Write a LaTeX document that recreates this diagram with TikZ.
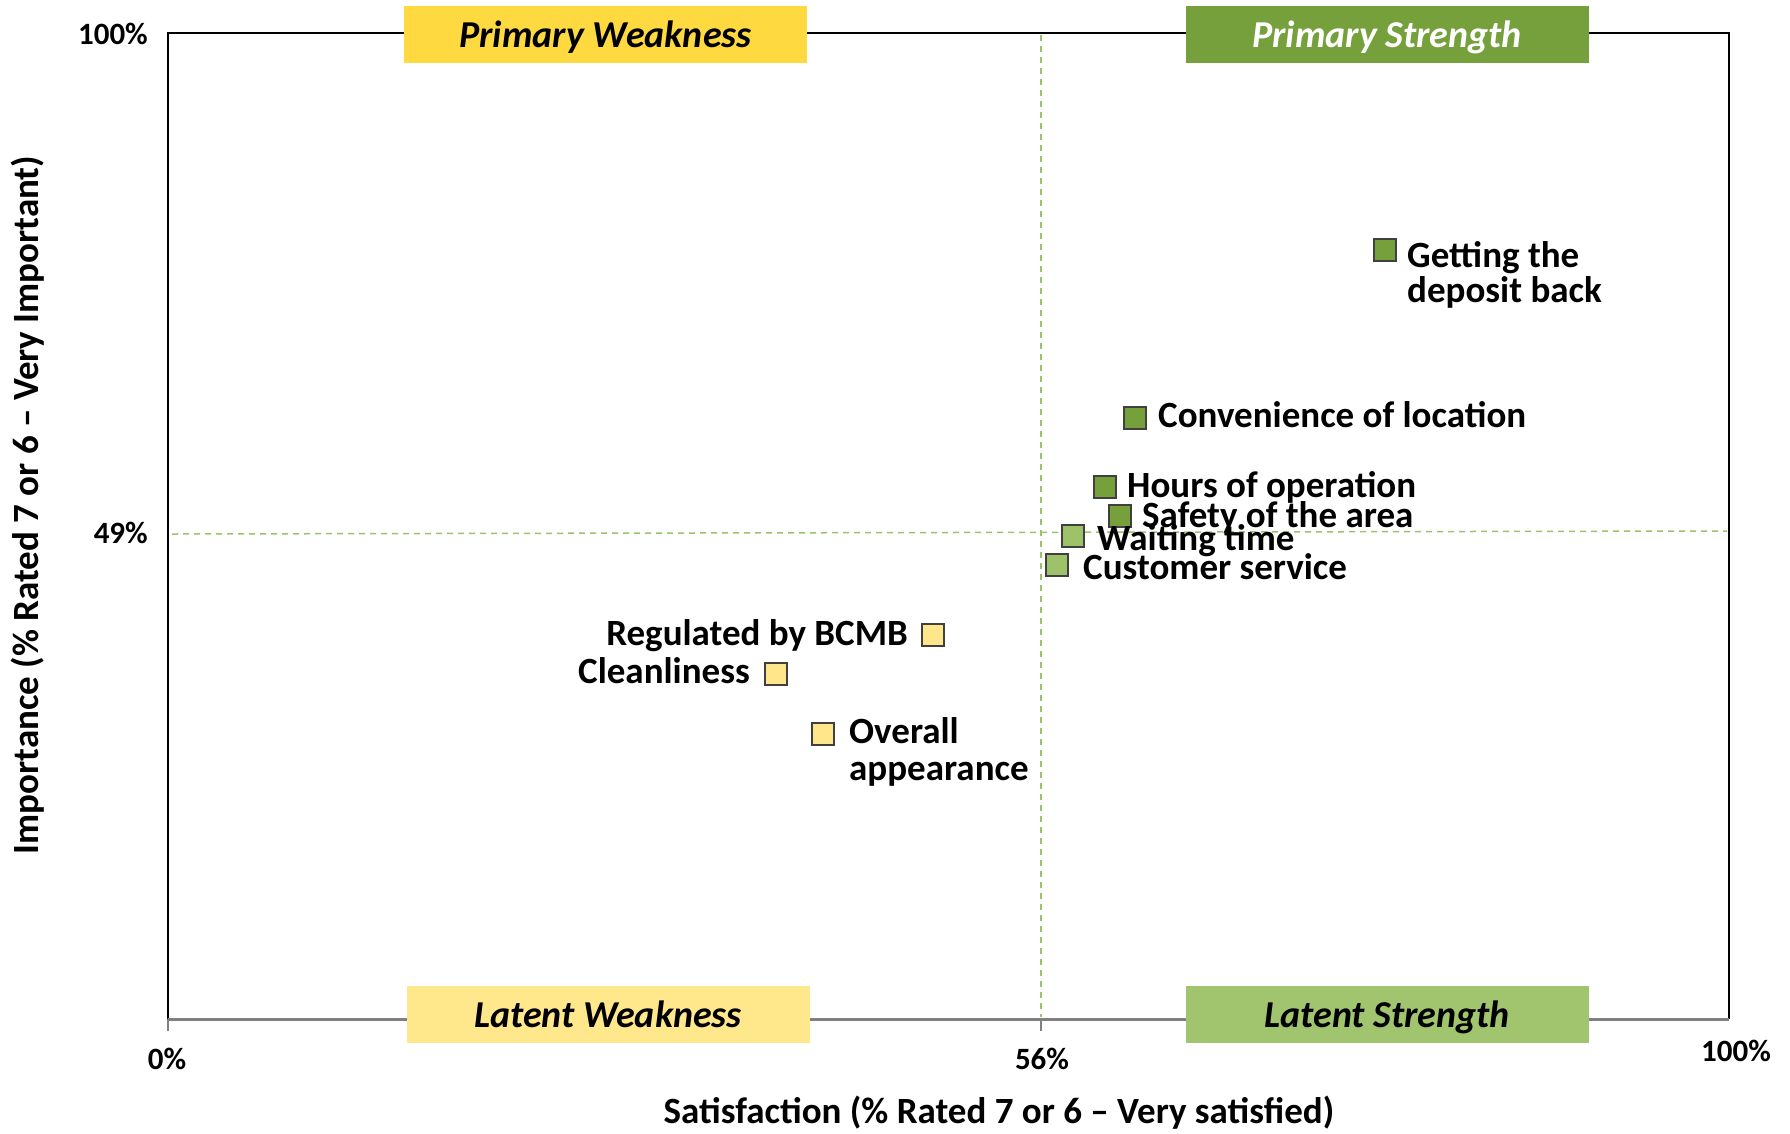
\documentclass[tikz,border=0pt]{standalone}
\usepackage{fontspec}
\setmainfont{Carlito}
\definecolor{pw}{HTML}{FFD940}
\definecolor{lw}{HTML}{FFE88C}
\definecolor{ps}{HTML}{76A03C}
\definecolor{ls}{HTML}{A1C46E}
\definecolor{mkdark}{HTML}{76A03C}
\definecolor{mklight}{HTML}{9DC26A}
\definecolor{mkyel}{HTML}{FFE68A}
\definecolor{mkedge}{HTML}{404040}
\definecolor{axgray}{HTML}{808080}
\definecolor{dashgreen}{HTML}{9BC36A}
\begin{document}
\begin{tikzpicture}[x=1bp,y=-1bp,
  lab/.style={font=\fontsize{37bp}{37bp}\selectfont\bfseries, inner sep=0pt, text=black},
  ticklab/.style={font=\fontsize{31bp}{31bp}\selectfont\bfseries, inner sep=0pt, text=black},
  quad/.style={minimum width=403bp, minimum height=57bp, inner sep=0pt, text height=28bp, text depth=2bp, font=\fontsize{38bp}{38bp}\selectfont\bfseries\itshape},
  sq/.style={draw=mkedge, line width=2bp, minimum size=22bp, inner sep=0pt},
  dsq/.style={sq, fill=mkdark},
  lsq/.style={sq, fill=mklight},
  ysq/.style={sq, fill=mkyel},
  guide/.style={draw=dashgreen, line width=1.5bp, dash pattern=on 6bp off 5bp}]
\useasboundingbox (0,0) rectangle (1790,1133);
\fill[white] (0,0) rectangle (1790,1133);
% frame
\coordinate (tl) at (168,33);
\coordinate (tr) at (1729,33);
\coordinate (br) at (1729,1019);
\coordinate (bl) at (168,1019);
\coordinate (m0) at (1041,1019);
\coordinate (t0) at (168,1031);
\coordinate (t56) at (1041,1031);
\draw[black, line width=2bp] (bl) -- (tl) -- (tr) -- (br);
\draw[axgray, line width=3bp] (bl) -- (br);
\draw[axgray, line width=1.5bp] (bl) -- (t0);
\draw[axgray, line width=1.5bp] (m0) -- (t56);
% guides
\coordinate (vtop) at (1041,35);
\coordinate (vbot) at (1041,1017);
\coordinate (hl) at (172,534);
\coordinate (hr) at (1727,531);
\draw[guide] (vtop) -- (vbot);
\draw[guide] (hl) -- (hr);
% quadrant labels
\node[quad, fill=pw, text=black] (qpw) at (605.5,34.5) {Primary Weakness};
\node[quad, fill=ps, text=white] (qps) at (1387,34.5) {Primary Strength};
\node[quad, fill=lw, text=black] (qlw) at (608,1014) {Latent Weakness};
\node[quad, fill=ls, text=black] (qls) at (1387,1014) {Latent Strength};
% tick labels
\node[ticklab, anchor=east] (y100) at (148,34) {100\%};
\node[ticklab, anchor=east] (y49) at (148,533) {49\%};
\node[ticklab] (x0) at (167,1059) {0\%};
\node[ticklab] (x56) at (1042,1059) {56\%};
\node[ticklab] (x100) at (1736,1051) {100\%};
% axis titles
\node[lab, rotate=90] (ytitle) at (28,505) {Importance (\% Rated 7 or 6 – Very Important)};
\node[lab] (xtitle) at (999,1113) {Satisfaction (\% Rated 7 or 6 – Very satisfied)};
% points
\node[dsq] (p1) at (1385,250) {};
\node[dsq] (p2) at (1135,418) {};
\node[dsq] (p3) at (1105,487) {};
\node[dsq] (p4) at (1120,516) {};
\node[lsq] (p5) at (1073,536) {};
\node[lsq] (p6) at (1057,565) {};
\node[ysq] (p7) at (933,635) {};
\node[ysq] (p8) at (776,674) {};
\node[ysq] (p9) at (823,734) {};
% point labels
\node[lab, anchor=base west] (l1a) at (1407,267) {Getting the};
\node[lab, anchor=base west] (l1b) at (1407,302) {deposit back};
\node[lab, anchor=base west] (l2) at (1158,427) {Convenience of location};
\node[lab, anchor=base west] (l3) at (1127,497) {Hours of operation};
\node[lab, anchor=base west] (l4) at (1142,527) {Safety of the area};
\node[lab, anchor=base west] (l5) at (1097,550) {Waiting time};
\node[lab, anchor=base west] (l6) at (1083,579) {Customer service};
\node[lab, anchor=base east] (l7) at (908,645) {Regulated by BCMB};
\node[lab, anchor=base east] (l8) at (750,683) {Cleanliness};
\node[lab, anchor=base west] (l9a) at (849,743) {Overall};
\node[lab, anchor=base west] (l9b) at (849,780) {appearance};
\end{tikzpicture}
\end{document}
